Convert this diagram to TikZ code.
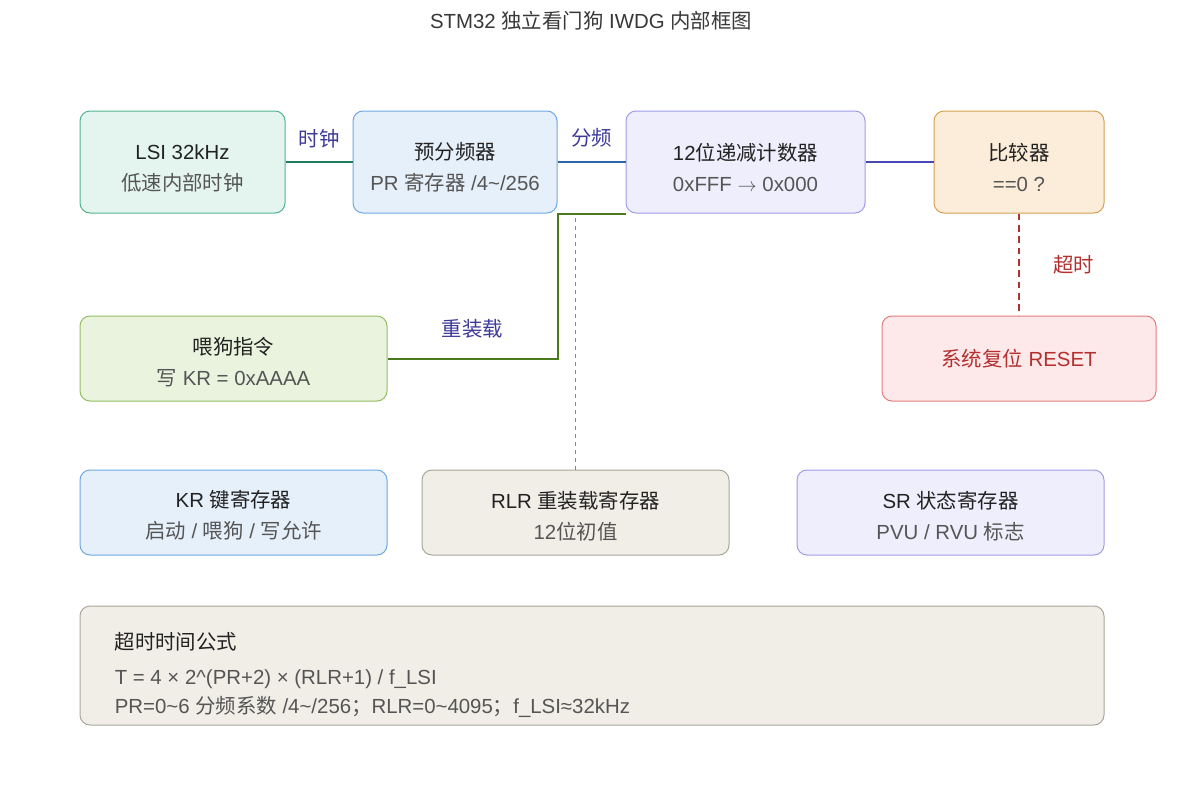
\documentclass[tikz,border=0pt]{standalone}
\usepackage{fontspec}
\setmainfont{Liberation Sans}
\newfontfamily\cjk{Noto Sans CJK SC}
\usetikzlibrary{positioning}

\definecolor{txtmain}{HTML}{222222}
\definecolor{txtsub}{HTML}{555555}
\definecolor{lblblue}{HTML}{3D3A98}
\definecolor{lblred}{HTML}{B3302F}
\definecolor{lsifill}{HTML}{E4F5EF}
\definecolor{lsiline}{HTML}{52B48C}
\definecolor{prefill}{HTML}{E6F0FB}
\definecolor{preline}{HTML}{6FA8E3}
\definecolor{ctrfill}{HTML}{EFEEFD}
\definecolor{ctrline}{HTML}{A09CE8}
\definecolor{cmpfill}{HTML}{FBEDD9}
\definecolor{cmpline}{HTML}{D5A152}
\definecolor{feedfill}{HTML}{EAF3DE}
\definecolor{feedline}{HTML}{93BF63}
\definecolor{rstfill}{HTML}{FDE9E9}
\definecolor{rstline}{HTML}{E47D7D}
\definecolor{regfill}{HTML}{F1EEE8}
\definecolor{regline}{HTML}{AAA69C}
\definecolor{wireteal}{HTML}{1E7B5E}
\definecolor{wireblue}{HTML}{2F63AA}
\definecolor{wireindigo}{HTML}{4B46B5}
\definecolor{wiregreen}{HTML}{4B7A1C}
\definecolor{wiregray}{HTML}{858585}

\newcommand\subline[1]{{\color{txtsub}#1}}

\begin{document}
\begin{tikzpicture}[x=0.75pt, y=-0.75pt,
    node distance=76.5pt and 51pt,
    blk/.style={rectangle, rounded corners=7.5pt, draw, line width=0.75pt, align=center,
      inner sep=2pt, text=txtmain, font=\fontsize{15.3}{23.25}\selectfont},
    tall/.style={blk, minimum height=76.5pt, text height=44pt},
    flat/.style={blk, minimum width=230.25pt, minimum height=63.75pt, text height=41pt},
    lbl/.style={font=\fontsize{15.3}{18}\selectfont\cjk, text=lblblue, inner sep=0pt},
    link/.style={line width=1.5pt},
    txt/.style={font=\fontsize{15.3}{18}\selectfont, inner sep=0pt, anchor=west}
  ]
  \fill[white] (0,0) rectangle (1179,807);
  \useasboundingbox (0,0) rectangle (1179,807);

  % title
  \node[font=\fontsize{15.3}{18}\selectfont, text=txtmain!90] (title) at (591,21)
    {STM32 {\cjk 独立看门狗} IWDG {\cjk 内部框图}};

  % top row: clock path
  \node[tall, minimum width=153.75pt, fill=lsifill, draw=lsiline] (lsi) at (182.5,162)
    {LSI 32kHz\\\subline{\cjk 低速内部时钟}};
  \node[tall, minimum width=153pt, fill=prefill, draw=preline, right=50.25pt of lsi] (presc)
    {{\cjk 预分频器}\\\subline{PR {\cjk 寄存器} /4\textasciitilde/256}};
  \node[tall, minimum width=179.25pt, fill=ctrfill, draw=ctrline, right=of presc] (ctr)
    {12{\cjk 位递减计数器}\\\subline{0xFFF $\rightarrow$ 0x000}};
  \node[tall, minimum width=127.5pt, fill=cmpfill, draw=cmpline, right=of ctr] (cmp)
    {{\cjk 比较器}\\\subline{==0 ?}};

  % middle row
  \node[flat, fill=feedfill, draw=feedline, below=of lsi.south west, anchor=north west] (feed)
    {{\cjk 喂狗指令}\\\subline{{\cjk 写} KR = 0xAAAA}};
  \node[flat, minimum width=205.5pt, fill=rstfill, draw=rstline, text=lblred, text height=,
        below=of cmp] (rst)
    {{\cjk 系统复位} RESET};

  % registers
  \node[flat, fill=prefill, draw=preline, below=51pt of feed] (kr)
    {KR {\cjk 键寄存器}\\\subline{{\cjk 启动} / {\cjk 喂狗} / {\cjk 写允许}}};
  \node[flat, fill=regfill, draw=regline, right=25.5pt of kr] (rlr)
    {RLR {\cjk 重装载寄存器}\\\subline{12{\cjk 位初值}}};
  \node[flat, fill=ctrfill, draw=ctrline, right=50.25pt of rlr] (sr)
    {SR {\cjk 状态寄存器}\\\subline{PVU / RVU {\cjk 标志}}};

  % formula
  \node[blk, minimum width=768pt, minimum height=89.25pt, fill=regfill, draw=regline,
        below=37.5pt of kr.south west, anchor=north west] (fml) {};
  \node[txt, text=txtmain] (fhead) at ([xshift=26.25pt, yshift=-27pt]fml.north west)
    {\cjk 超时时间公式};
  \node[txt, text=txtsub] (fline1) at ([xshift=26.25pt, yshift=-55.5pt]fml.north west)
    {T = 4 × 2\textasciicircum(PR+2) × (RLR+1) / f\_LSI};
  \node[txt, text=txtsub] (fline2) at ([xshift=26.25pt, yshift=-75.75pt]fml.north west)
    {PR=0\textasciitilde6 {\cjk 分频系数} /4\textasciitilde/256{\cjk ；}RLR=0\textasciitilde4095{\cjk ；}f\_LSI≈32kHz};

  % connectors
  \draw[link, wireteal] (lsi) -- node[lbl, above=10pt] (lblclk) {时钟} (presc);
  \draw[link, wireblue] (presc) -- node[lbl, above=10pt] (lbldiv) {分频} (ctr);
  \draw[link, wireindigo] (ctr) -- (cmp);
  \draw[link, wiregreen] (feed.east) -- node[lbl, above=14.5pt] (lblrld) {重装载}
    (feed.east -| presc.south east) -- (presc.south east) -- (ctr.south west);
  \draw[wiregray, line width=1pt, dash pattern=on 3pt off 3pt] (rlr.north) -- (rlr.north |- ctr.south);
  \draw[link, lblred, dash pattern=on 5pt off 3.5pt] (cmp.south) --
    node[lbl, text=lblred, right=25pt] (lbltmo) {超时} (rst.north);
\end{tikzpicture}
\end{document}
